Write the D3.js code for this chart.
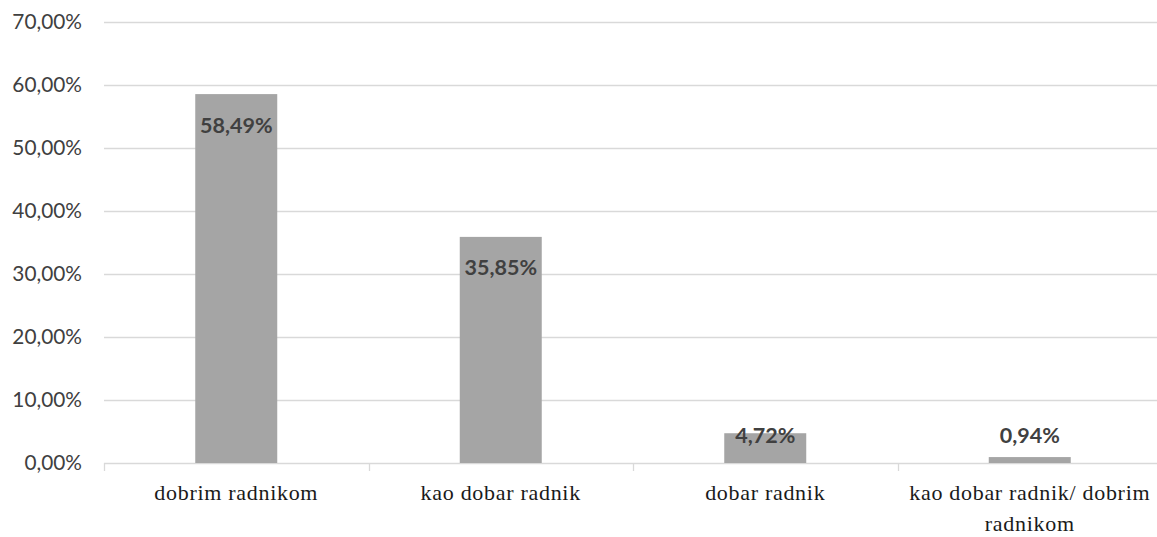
<!DOCTYPE html>
<html>
<head>
<meta charset="utf-8">
<script src="https://cdn.jsdelivr.net/npm/d3@7"></script>
<style>
  html, body { margin: 0; padding: 0; background: #fff; }
  svg { display: block; }
</style>
</head>
<body>
<svg id="chart" width="1157" height="537"></svg>
<script>
// Category names (line breaks mark the wrapped label)
const categories = [
  ["dobrim radnikom"],
  ["kao dobar radnik"],
  ["dobar radnik"],
  ["kao dobar radnik/ dobrim", "radnikom"]
];
const values = [58.49, 35.85, 4.72, 0.94];
const yTicks = [0, 10, 20, 30, 40, 50, 60, 70];

const fmt = v => d3.format(".2f")(v).replace(".", ",") + "%";
const SANS = '"Lato", "Open Sans", sans-serif';
const SERIF = '"Liberation Serif", "Times New Roman", serif';

const svg = d3.select("#chart");
const margin = { left: 104, right: -5, top: 21.5, bottom: 74 };
const W = 1157, H = 537;

const x = d3.scaleBand()
  .domain(d3.range(categories.length))
  .range([margin.left, W - margin.right])
  .paddingInner(0.69)
  .paddingOuter(0.345);

const y = d3.scaleLinear()
  .domain([0, 70])
  .range([H - margin.bottom, margin.top]);

// horizontal gridlines
svg.append("g")
  .selectAll("line")
  .data(yTicks)
  .join("line")
  .attr("x1", margin.left)
  .attr("x2", W)
  .attr("y1", d => Math.round(y(d)) + 0.5)
  .attr("y2", d => Math.round(y(d)) + 0.5)
  .attr("stroke", "#d9d9d9")
  .attr("stroke-width", 1.3);

// y-axis labels
svg.append("g")
  .selectAll("text")
  .data(yTicks)
  .join("text")
  .style("font-family", SANS)
  .attr("x", 82)
  .attr("y", d => y(d))
  .attr("dy", "0.35em")
  .attr("text-anchor", "end")
  .attr("font-size", 20.8)
  .attr("fill", "#404040")
  .text(d => fmt(d));

// category boundary ticks
const step = x.step();
const bounds = d3.range(categories.length).map(i => x(i) - (step - x.bandwidth()) / 2);
svg.append("g")
  .selectAll("line")
  .data(bounds)
  .join("line")
  .attr("x1", d => Math.round(d) + 0.5)
  .attr("x2", d => Math.round(d) + 0.5)
  .attr("y1", y(0))
  .attr("y2", y(0) + 8)
  .attr("stroke", "#d9d9d9")
  .attr("stroke-width", 1.3);

// bars
svg.append("g")
  .selectAll("rect")
  .data(values)
  .join("rect")
  .attr("x", (d, i) => x(i))
  .attr("width", x.bandwidth())
  .attr("y", d => y(d))
  .attr("height", d => y(0) - y(d))
  .attr("fill", "#a5a5a5");

// value labels: inside the top of tall bars, above short ones
svg.append("g")
  .selectAll("text")
  .data(values)
  .join("text")
  .style("font-family", SANS)
  .attr("x", (d, i) => x(i) + x.bandwidth() / 2)
  .attr("y", d => Math.min(y(d) + 31, y(0) - 28))
  .attr("dy", "0.35em")
  .attr("text-anchor", "middle")
  .attr("font-weight", "bold")
  .attr("font-size", 21.5)
  .attr("fill", "#404040")
  .text(d => fmt(d));

// category labels
const cat = svg.append("g")
  .selectAll("text")
  .data(categories)
  .join("text")
  .style("font-family", SERIF)
  .style("letter-spacing", "0.7px")
  .attr("x", (d, i) => x(i) + x.bandwidth() / 2)
  .attr("y", 500)
  .attr("text-anchor", "middle")
  .attr("font-size", 22)
  .attr("fill", "#1a1a1a");
cat.selectAll("tspan")
  .data(d => d)
  .join("tspan")
  .attr("x", function () { return d3.select(this.parentNode).attr("x"); })
  .attr("dy", (d, j) => j === 0 ? 0 : 31)
  .text(d => d);
</script>
</body>
</html>
